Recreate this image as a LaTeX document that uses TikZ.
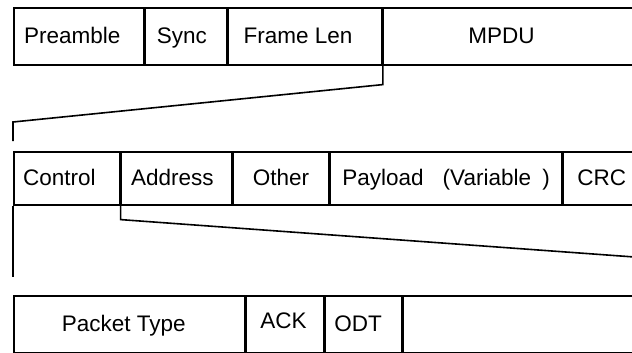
\documentclass[tikz,border=0pt]{standalone}
\usepackage{fontspec}
\setmainfont{Liberation Sans}
\newcommand\fldtxt[2]{\hspace*{#1pt}#2}
\begin{document}
\begin{tikzpicture}[x=1pt,y=-1pt,
  fld/.style={draw, line width=1.6pt, inner sep=0pt, anchor=north west,
    text height=16pt, text depth=1pt,
    font=\fontsize{22.5}{27}\selectfont},
  hA/.style={minimum height=57pt},
  hB/.style={minimum height=53pt},
  conn/.style={line width=1.6pt, line join=miter}]
\useasboundingbox (0,0) rectangle (632,353);
% row 1
\node[fld,hA,minimum width=130pt] (pre) at (13,7) {\fldtxt{-13}{Preamble}};
\node[fld,hA,minimum width=81pt] (sync) at (pre.north east) {\fldtxt{-8}{Sync}};
\node[fld,hA,minimum width=154pt] (flen) at (sync.north east) {\fldtxt{-14}{Frame Len}};
\node[fld,hA,minimum width=250pt] (mpdu) at (flen.north east) {\fldtxt{-14}{MPDU}};
% row 2
\node[fld,hB,minimum width=106pt] (ctl) at (13,151) {\fldtxt{-15}{Control}};
\node[fld,hB,minimum width=110pt] (addr) at (ctl.north east) {\fldtxt{-8}{Address}};
\node[fld,hB,minimum width=96pt] (oth) at (addr.north east) {Other};
\node[fld,hB,minimum width=231pt] (pay) at (oth.north east) {Payload\hspace{0.85em}(Variable\hspace{0.5em})};
\node[fld,hB,minimum width=72pt] (crc) at (pay.north east) {\fldtxt{5}{CRC}};
% row 3
\node[fld,hA,minimum width=231pt] (ptype) at (13,295) {\fldtxt{-11}{Packet Type}};
\node[fld,hA,minimum width=77pt] (ack) at (ptype.north east) {\raisebox{3pt}{\fldtxt{-3}{ACK}}};
\node[fld,hA,minimum width=77pt] (odt) at (ack.north east) {\fldtxt{-11}{ODT}};
\node[fld,hA,minimum width=230pt] (rest) at (odt.north east) {};
% expansion connectors
\draw[conn] (mpdu.south west) -- ++(0,19) -- ([yshift=29pt]ctl.north west) -- ([yshift=10pt]ctl.north west);
\draw[conn] (mpdu.south east) -- ([yshift=9pt]crc.north east);
\draw[conn] (ctl.south east) -- ++(0,14) -- ([yshift=38pt]rest.north east) -- ([yshift=15pt]rest.north east);
\draw[conn] (ctl.south west) -- ([yshift=18pt]ptype.north west);
\end{tikzpicture}
\end{document}
